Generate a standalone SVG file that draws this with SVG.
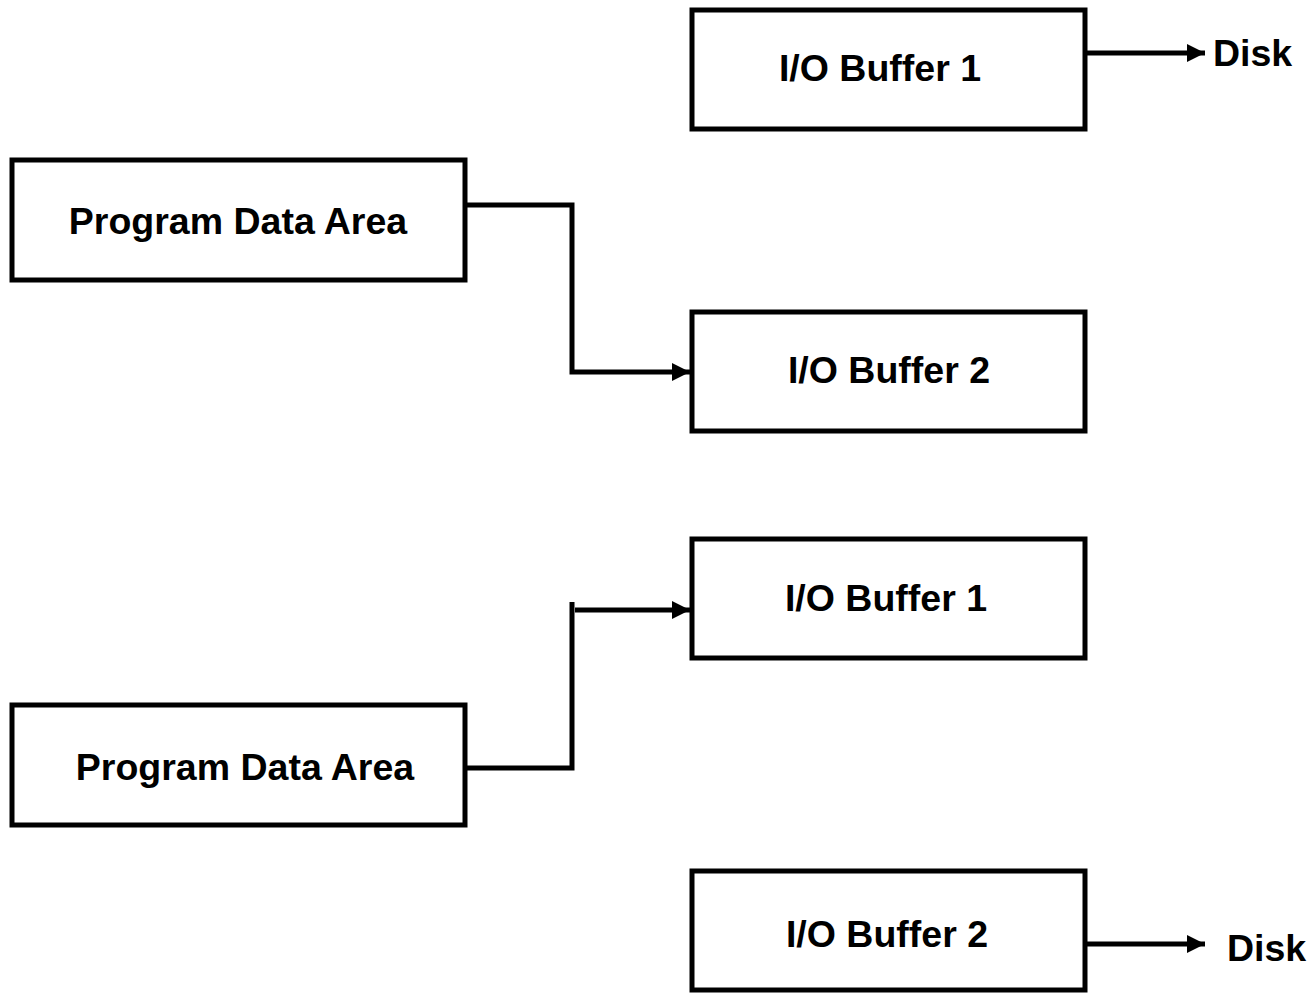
<svg xmlns="http://www.w3.org/2000/svg" width="1310" height="993" viewBox="0 0 1310 993">
<style>
.box{fill:#fff;stroke:#000;stroke-width:5}
.lbl{font-family:"Liberation Sans",Arial,sans-serif;font-weight:bold;font-size:37.5px;fill:#000}
.ln{fill:none;stroke:#000;stroke-width:5}
</style>
<defs>
<marker id="ah" markerUnits="userSpaceOnUse" markerWidth="20" markerHeight="20" refX="18" refY="9" orient="auto">
<path d="M0,0 L18,9 L0,18 Z" fill="#000"/>
</marker>
</defs>
<rect width="1310" height="993" fill="#fff"/>
<g id="buf1a"><rect class="box" x="692" y="10" width="393" height="119"/><text class="lbl" x="880" y="81" text-anchor="middle">I/O Buffer 1</text></g>
<g id="pda1"><rect class="box" x="12" y="160" width="453" height="120"/><text class="lbl" x="238" y="234" text-anchor="middle">Program Data Area</text></g>
<g id="buf2a"><rect class="box" x="692" y="312" width="393" height="119"/><text class="lbl" x="889" y="383" text-anchor="middle">I/O Buffer 2</text></g>
<g id="buf1b"><rect class="box" x="692" y="539" width="393" height="119"/><text class="lbl" x="886" y="611" text-anchor="middle">I/O Buffer 1</text></g>
<g id="pda2"><rect class="box" x="12" y="705" width="453" height="120"/><text class="lbl" x="245" y="780" text-anchor="middle">Program Data Area</text></g>
<g id="buf2b"><rect class="box" x="692" y="871" width="393" height="119"/><text class="lbl" x="887" y="947" text-anchor="middle">I/O Buffer 2</text></g>
<g id="disk1"><text class="lbl" x="1213" y="66">Disk</text></g>
<g id="disk2"><text class="lbl" x="1227" y="961">Disk</text></g>
<g id="connectors">
<path class="ln" d="M1087,53 L1205,53" marker-end="url(#ah)"/>
<path class="ln" d="M1087,944 L1205,944" marker-end="url(#ah)"/>
<path class="ln" d="M467,205 L572,205 L572,372 L690,372" marker-end="url(#ah)"/>
<path class="ln" d="M467,768 L572,768 L572,602"/>
<path class="ln" d="M575,610 L690,610" marker-end="url(#ah)"/>
</g>
</svg>
